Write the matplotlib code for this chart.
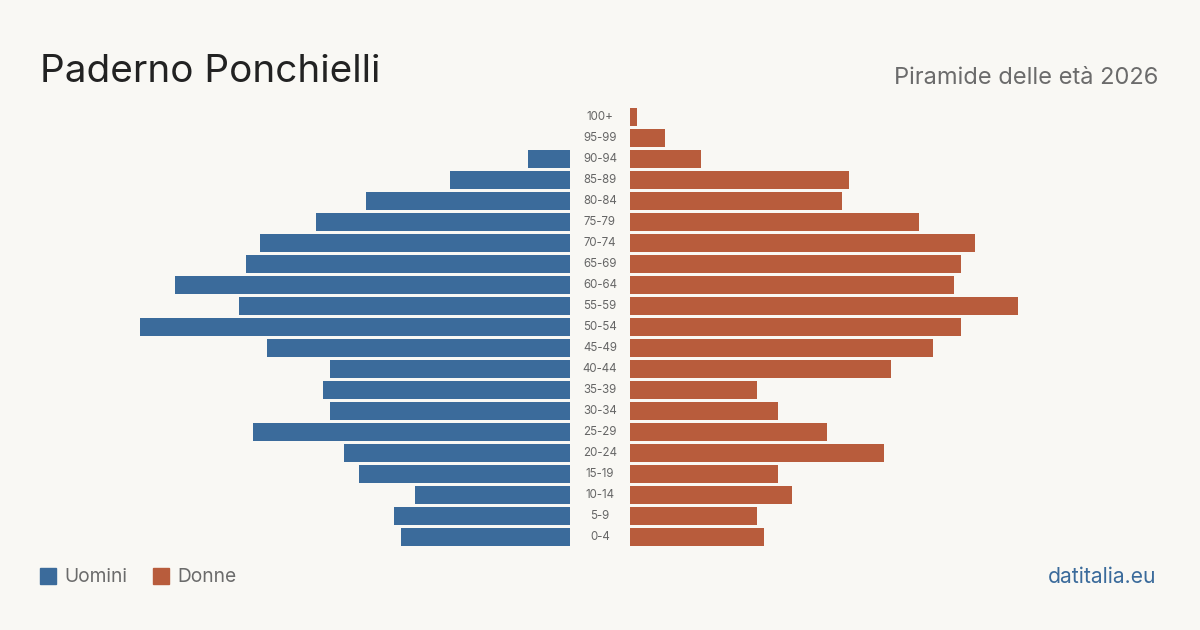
import matplotlib
matplotlib.use("Agg")
import matplotlib.pyplot as plt

plt.rcParams['font.family'] = ['Inter', 'DejaVu Sans']

age_groups = ["0-4", "5-9", "10-14", "15-19", "20-24", "25-29", "30-34", "35-39",
              "40-44", "45-49", "50-54", "55-59", "60-64", "65-69", "70-74",
              "75-79", "80-84", "85-89", "90-94", "95-99", "100+"]
men = [24, 25, 22, 30, 32, 45, 34, 35, 34, 43, 61, 47, 56, 46, 44, 36, 29, 17, 6, 0, 0]
women = [19, 18, 23, 21, 36, 28, 21, 18, 37, 43, 47, 55, 46, 47, 49, 41, 30, 31, 10, 5, 1]

BG = "#f9f8f4"
BLUE = "#3b6b9b"
ORANGE = "#b85c3c"
W, H = 1200, 630
XMAX = 62

fig = plt.figure(figsize=(12, 6.3), dpi=100, facecolor=BG)

px_per = 7.05
ax_w = XMAX * px_per
top_px, bot_px = 106.5, 547.5
b = 1 - bot_px / H
h = (bot_px - top_px) / H

axL = fig.add_axes([(570 - ax_w) / W, b, ax_w / W, h])
axR = fig.add_axes([630 / W, b, ax_w / W, h])

ypos = list(range(len(age_groups)))
axL.barh(ypos, men, height=0.81, color=BLUE)
axR.barh(ypos, women, height=0.81, color=ORANGE)
axL.set_xlim(XMAX, 0)
axR.set_xlim(0, XMAX)
for ax in (axL, axR):
    ax.set_ylim(-0.5, len(age_groups) - 0.5)
    ax.axis("off")
    ax.set_facecolor("none")

for i, lab in enumerate(age_groups):
    axR.annotate(lab, xy=(0, i), xycoords="data", xytext=(-30, 0),
                 textcoords="offset pixels", ha="center", va="center",
                 fontsize=8.3, color="#666666", annotation_clip=False)

fig.text(40 / W, 1 - 82 / H, "Paderno Ponchielli", fontsize=27.8, color="#222222",
         ha="left", va="baseline")
fig.text(1158 / W, 1 - 84 / H, "Piramide delle età 2026", fontsize=17, color="#6b6b6b",
         ha="right", va="baseline")

# legend
fig.patches.append(plt.Rectangle((40 / W, 1 - 584 / H), 16 / W, 16 / H,
                                 transform=fig.transFigure, color=BLUE))
fig.text(64 / W, 1 - 582.5 / H, "Uomini", fontsize=13.8, color="#6b6b6b",
         ha="left", va="baseline")
fig.patches.append(plt.Rectangle((153 / W, 1 - 584 / H), 16 / W, 16 / H,
                                 transform=fig.transFigure, color=ORANGE))
fig.text(177 / W, 1 - 582.5 / H, "Donne", fontsize=13.8, color="#6b6b6b",
         ha="left", va="baseline")

fig.text(1156 / W, 1 - 583 / H, "datitalia.eu", fontsize=15.2, color=BLUE,
         ha="right", va="baseline")

fig.savefig("out.png", dpi=100, facecolor=BG)
